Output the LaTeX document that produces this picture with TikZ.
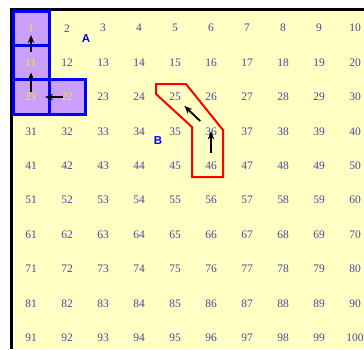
\documentclass[tikz,border=0pt]{standalone}
\usepackage{fontspec}
\setmainfont{Liberation Serif}
\newfontfamily\labelfont{Liberation Sans}
\usetikzlibrary{arrows.meta,calc}
\definecolor{gridyellow}{RGB}{255,255,196}
\definecolor{numblue}{RGB}{72,72,150}
\definecolor{visitpurple}{RGB}{202,160,250}
\definecolor{visitgold}{RGB}{255,235,0}

\begin{document}
\begin{tikzpicture}[x=1pt, y=-1pt,
  cell/.style={minimum width=36pt, minimum height=34.4pt, inner sep=0pt,
    text=numblue, font=\fontsize{11.5}{12}\selectfont},
  visited/.style={cell, fill=visitpurple, draw=blue, line width=3pt, text=visitgold},
  tag/.style={text=blue, font=\labelfont\bfseries\fontsize{11.5}{12}\selectfont},
  arr/.style={-{Stealth[length=8pt, width=6.5pt]}, black, line width=1.8pt},
  route/.style={draw=red, line width=2pt}]
\useasboundingbox (0,0) rectangle (364,349);
\clip (0,0) rectangle (364,349);
\fill[gridyellow] (13,11) rectangle (364,349);
\draw[line width=3pt] (11.5,349) -- (11.5,9.5) -- (364,9.5);
% number grid
\foreach \r in {0,...,9}
  \foreach \c in {1,...,10} {
    \pgfmathtruncatemacro\n{10*\r+\c}
    \def\sty{cell}
    \ifnum\n=1 \def\sty{visited}\fi
    \ifnum\n=11 \def\sty{visited}\fi
    \ifnum\n=21 \def\sty{visited}\fi
    \ifnum\n=22 \def\sty{visited}\fi
    \node[\sty] (c\n) at ({31+36*(\c-1)}, {28.2+34.4*\r}) {\n};
  }
\node[tag] (ta) at (86,39) {A};
\node[tag] (tb) at (158,141) {B};
% route B
\draw[route] (156,84) -- (186,84) -- (223,130) -- (223,177) -- (192,177)
  -- (192,127) -- (156,94) -- cycle;
% moves
\draw[arr] ($(c11)!0.31!(c1)$) -- ($(c1)!0.2!(c11)$);
\draw[arr] ($(c21)!0.16!(c11)$) -- ($(c11)!0.29!(c21)$);
\draw[arr] ($(c22)!0.11!(c21)$) -- ($(c21)!0.39!(c22)$);
\draw[arr] ($(c46)!0.38!(c36)$) -- ($(c36)!0.0!(c46)$);
\draw[arr] ($(c36)!0.3!(c25)$) -- ($(c25)!0.26!(c36)$);
\end{tikzpicture}
\end{document}
